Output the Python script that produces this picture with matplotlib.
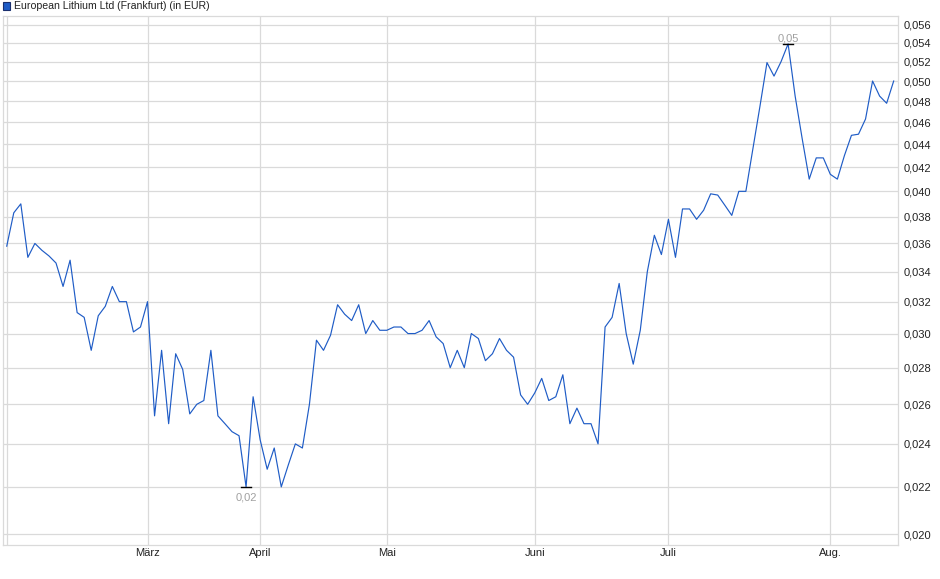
import numpy as np
import matplotlib.pyplot as plt
from matplotlib.patches import Rectangle
from matplotlib.ticker import FixedLocator, NullLocator, FuncFormatter

# Kurse (EUR), ein Wert je Handelstag
values = [
    0.0358, 0.0383, 0.0390, 0.0350, 0.0360, 0.0355, 0.0351, 0.0346, 0.0330, 0.0348,
    0.0313, 0.0310, 0.0290, 0.0311, 0.0317, 0.0330, 0.0320, 0.0320, 0.0301, 0.0304,
    0.0320, 0.0254, 0.0290, 0.0250, 0.0288, 0.0279, 0.0255, 0.0260, 0.0262, 0.0290,
    0.0254, 0.0250, 0.0246, 0.0244, 0.0220, 0.0264, 0.0242, 0.0228, 0.0238, 0.0220,
    0.0230, 0.0240, 0.0238, 0.0260, 0.0296, 0.0290, 0.0299, 0.0318, 0.0312, 0.0308,
    0.0318, 0.0300, 0.0308, 0.0302, 0.0302, 0.0304, 0.0304, 0.0300, 0.0300, 0.0302,
    0.0308, 0.0298, 0.0294, 0.0280, 0.0290, 0.0280, 0.0300, 0.0297, 0.0284, 0.0288,
    0.0297, 0.0290, 0.0286, 0.0265, 0.0260, 0.0266, 0.0274, 0.0262, 0.0264, 0.0276,
    0.0250, 0.0258, 0.0250, 0.0250, 0.0240, 0.0304, 0.0310, 0.0332, 0.0300, 0.0282,
    0.0302, 0.0340, 0.0366, 0.0352, 0.0378, 0.0350, 0.0386, 0.0386, 0.0378, 0.0385,
    0.0398, 0.0397, 0.0389, 0.0381, 0.0400, 0.0400, 0.0436, 0.0475, 0.0519, 0.0505,
    0.0520, 0.0539, 0.0485, 0.0445, 0.0410, 0.0428, 0.0428, 0.0414, 0.0410, 0.0430,
    0.0448, 0.0449, 0.0463, 0.0500, 0.0485, 0.0478, 0.0500,
]
months = ['März', 'April', 'Mai', 'Juni', 'Juli', 'Aug.']
month_idx = [20, 36, 54, 75, 94, 117]
yticks = [0.020, 0.022, 0.024, 0.026, 0.028, 0.030, 0.032, 0.034, 0.036, 0.038,
          0.040, 0.042, 0.044, 0.046, 0.048, 0.050, 0.052, 0.054, 0.056]
title = 'European Lithium Ltd (Frankfurt) (in EUR)'

plt.rcParams['font.family'] = ['Liberation Sans', 'DejaVu Sans']
blue = '#1f5cc6'
grid = '#dadada'

fig = plt.figure(figsize=(9.4, 5.79), dpi=100)
ax = fig.add_axes([0.0029, 0.0587, 0.9527, 0.9137])

x = np.arange(len(values))
ax.plot(x, values, color=blue, lw=0.85, zorder=3)

ax.set_yscale('log')
ax.set_ylim(0.01956, 0.05703)
ax.set_xlim(-0.57, 126.65)

ax.yaxis.set_major_locator(FixedLocator(yticks))
ax.yaxis.set_minor_locator(NullLocator())
ax.yaxis.set_major_formatter(FuncFormatter(lambda v, p: f'{v:.3f}'.replace('.', ',')))
ax.yaxis.tick_right()
ax.tick_params(axis='y', length=0, pad=3.5, labelsize=8, colors='#222222')

ax.set_xticks(month_idx)
ax.set_xticklabels(months)
ax.tick_params(axis='x', length=0, pad=2.5, labelsize=8, colors='#222222')

ax.grid(True, color=grid, lw=0.9)
ax.axvline(0, color=grid, lw=0.9)
for s in ax.spines.values():
    s.set_color(grid)
    s.set_linewidth(0.9)

# Tief / Hoch markieren
imin = int(np.argmin(values))
imax = int(np.argmax(values))
for i, off, va in [(imin, -4.2, 'top'), (imax, 0.6, 'bottom')]:
    v = values[i]
    ax.plot([i - 0.75, i + 0.75], [v, v], color='k', lw=1, zorder=4)
    ax.annotate(f'{v:.2f}'.replace('.', ','), (i, v), xytext=(0, off),
                textcoords='offset points', ha='center', va=va,
                color='#a0a0a0', fontsize=8)

# Legende oben links
fig.patches.append(Rectangle((3 / 940, 1 - 10 / 579), 7 / 940, 8 / 579,
                             transform=fig.transFigure, facecolor=blue,
                             edgecolor='#1a2f6e', lw=0.8))
fig.text(14 / 940, 1 - 6 / 579, title, fontsize=7.6, va='center', ha='left',
         color='#222222')

fig.savefig('out.png', dpi=100)
